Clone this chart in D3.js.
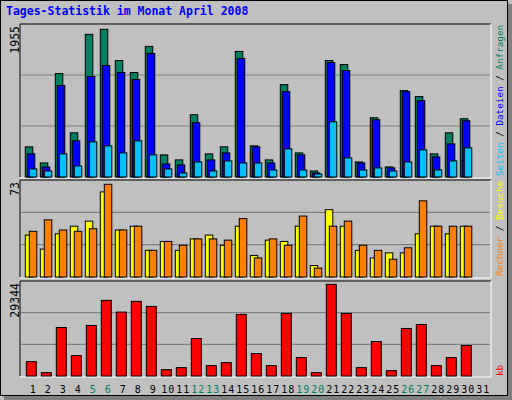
<!DOCTYPE html><html><head><meta charset="utf-8">
<script src="https://cdn.jsdelivr.net/npm/d3@7"></script>
<style>body{margin:0;background:#fff}</style></head><body>
<script>
const days = d3.range(1,31);
const dayLabels = d3.range(1,32).map(String);
const weekend = [5,6,12,13,19,20,26,27];
const hits  = [399,186,1369,585,1888,1955,1542,1383,1729,293,226,824,306,399,1662,412,226,1223,319,80,1542,1489,199,784,133,1143,1064,306,585,771];
const files = [306,133,1210,479,1330,1476,1383,1290,1635,173,160,718,226,319,1569,399,186,1130,293,53,1516,1409,186,758,120,1130,1010,266,439,745];
const pages = [106,80,306,146,465,412,319,479,293,106,53,199,80,213,186,186,93,372,93,40,731,253,93,120,80,199,359,93,213,386];
const visits= [33,22,34,40,44,67,37,40,21,28,21,30,33,25,40,17,29,28,40,9,53,40,21,15,19,19,34,40,34,40];
const sites = [36,45,37,36,38,73,37,40,21,28,25,30,30,29,46,15,30,25,48,7,40,44,25,21,14,23,60,40,40,40];
const kb = [4605,1071,15530,6533,16172,24205,20456,23883,22277,2035,2678,11995,3320,4284,19706,7176,3320,20028,5891,1071,29344,20028,2678,11031,1714,15208,16493,3320,5891,9746];
const C={hits:"#008060",files:"#0000ff",pages:"#00c0ff",visits:"#ffff00",sites:"#ff8000",kb:"#ff0000"};
const svg=d3.select("body").append("svg").attr("width",512).attr("height",400).style("font-family","'DejaVu Sans Mono',monospace");
svg.append("rect").attr("width",512).attr("height",400).attr("fill","#c0c0c0");
svg.append("rect").attr("x",0.5).attr("y",0.5).attr("width",507).attr("height",395).attr("fill","none").attr("stroke","#000");
svg.append("rect").attr("x",508).attr("y",4).attr("width",4).attr("height",396).attr("fill","#808080");
svg.append("rect").attr("x",4).attr("y",396).attr("width",508).attr("height",4).attr("fill","#808080");
svg.append("text").attr("x",6).attr("y",15).attr("fill","#0000ff").attr("font-weight","bold").attr("font-size",11.5).text("Tages-Statistik im Monat April 2008");
const x=d3.scaleLinear().domain([1,31]).range([25.3,25.3+450]);
function panel(top,bot,maxY,maxV,label){
  svg.append("rect").attr("x",20).attr("y",top).attr("width",471).attr("height",bot-top).attr("fill","#c0c0c0");
  const y=d3.scaleLinear().domain([0,maxV]).range([bot,maxY]);
  [1,2].forEach(i=>{const gy=bot-(bot-top)*i/3;svg.append("line").attr("x1",21).attr("x2",490).attr("y1",gy).attr("y2",gy).attr("stroke","#808080").attr("stroke-width",1.2);});
  svg.append("path").attr("d",`M20,${bot}V${top}H491`).attr("stroke","#000").attr("fill","none");
  svg.append("path").attr("d",`M20,${bot+1}H491V${top}`).attr("stroke","#fff").attr("fill","none");
  svg.append("text").attr("transform",`translate(19,${top+2}) rotate(-90)`).attr("text-anchor","end").attr("font-size",11.5).text(label);
  return y;
}
function bars(data,y,off,w,col){
  svg.append("g").selectAll("rect").data(data).join("rect")
   .attr("x",(d,i)=>x(i+1)+off).attr("y",d=>y(d)).attr("width",w).attr("height",d=>y(0)-y(d))
   .attr("fill",col).attr("stroke","#000").attr("stroke-width",1);
}
const y1=panel(24,177,29.3,1955,"1955");
bars(hits,y1,0,7.5,C.hits);bars(files,y1,2,7.5,C.files);bars(pages,y1,4,7.5,C.pages);
const y2=panel(180,277,184.3,73,"73");
bars(visits,y2,0,7.5,C.visits);bars(sites,y2,4,7.5,C.sites);
const y3=panel(281,376,284.3,29344,"29344");
bars(kb,y3,1,10,C.kb);
svg.append("g").selectAll("text").data(dayLabels).join("text")
 .attr("x",(d,i)=>x(i+1)+7.5).attr("y",393).attr("text-anchor","middle").attr("font-size",10)
 .attr("textLength",d=>d.length>1?13:null)
 .attr("fill",d=>weekend.includes(+d)?"#008060":"#000").text(d=>d);
function legend(yb,parts){
  const t=svg.append("text").attr("transform",`translate(503,${yb}) rotate(-90)`).attr("font-size",9.3);
  parts.forEach(p=>t.append("tspan").attr("fill",p[1]).text(p[0]));
}
legend(276,[["Rechner",C.sites],[" / ","#000"],["Besuche",C.visits],[" / ","#000"],["Seiten",C.pages]]);
svg.append("rect").attr("x",494).attr("y",20).attr("width",13).attr("height",157).attr("fill","#c0c0c0");
legend(176,[["Seiten",C.pages],[" / ","#000"],["Dateien",C.files],[" / ","#000"],["Anfragen",C.hits]]);
legend(376,[["kb",C.kb]]);
</script></body></html>
